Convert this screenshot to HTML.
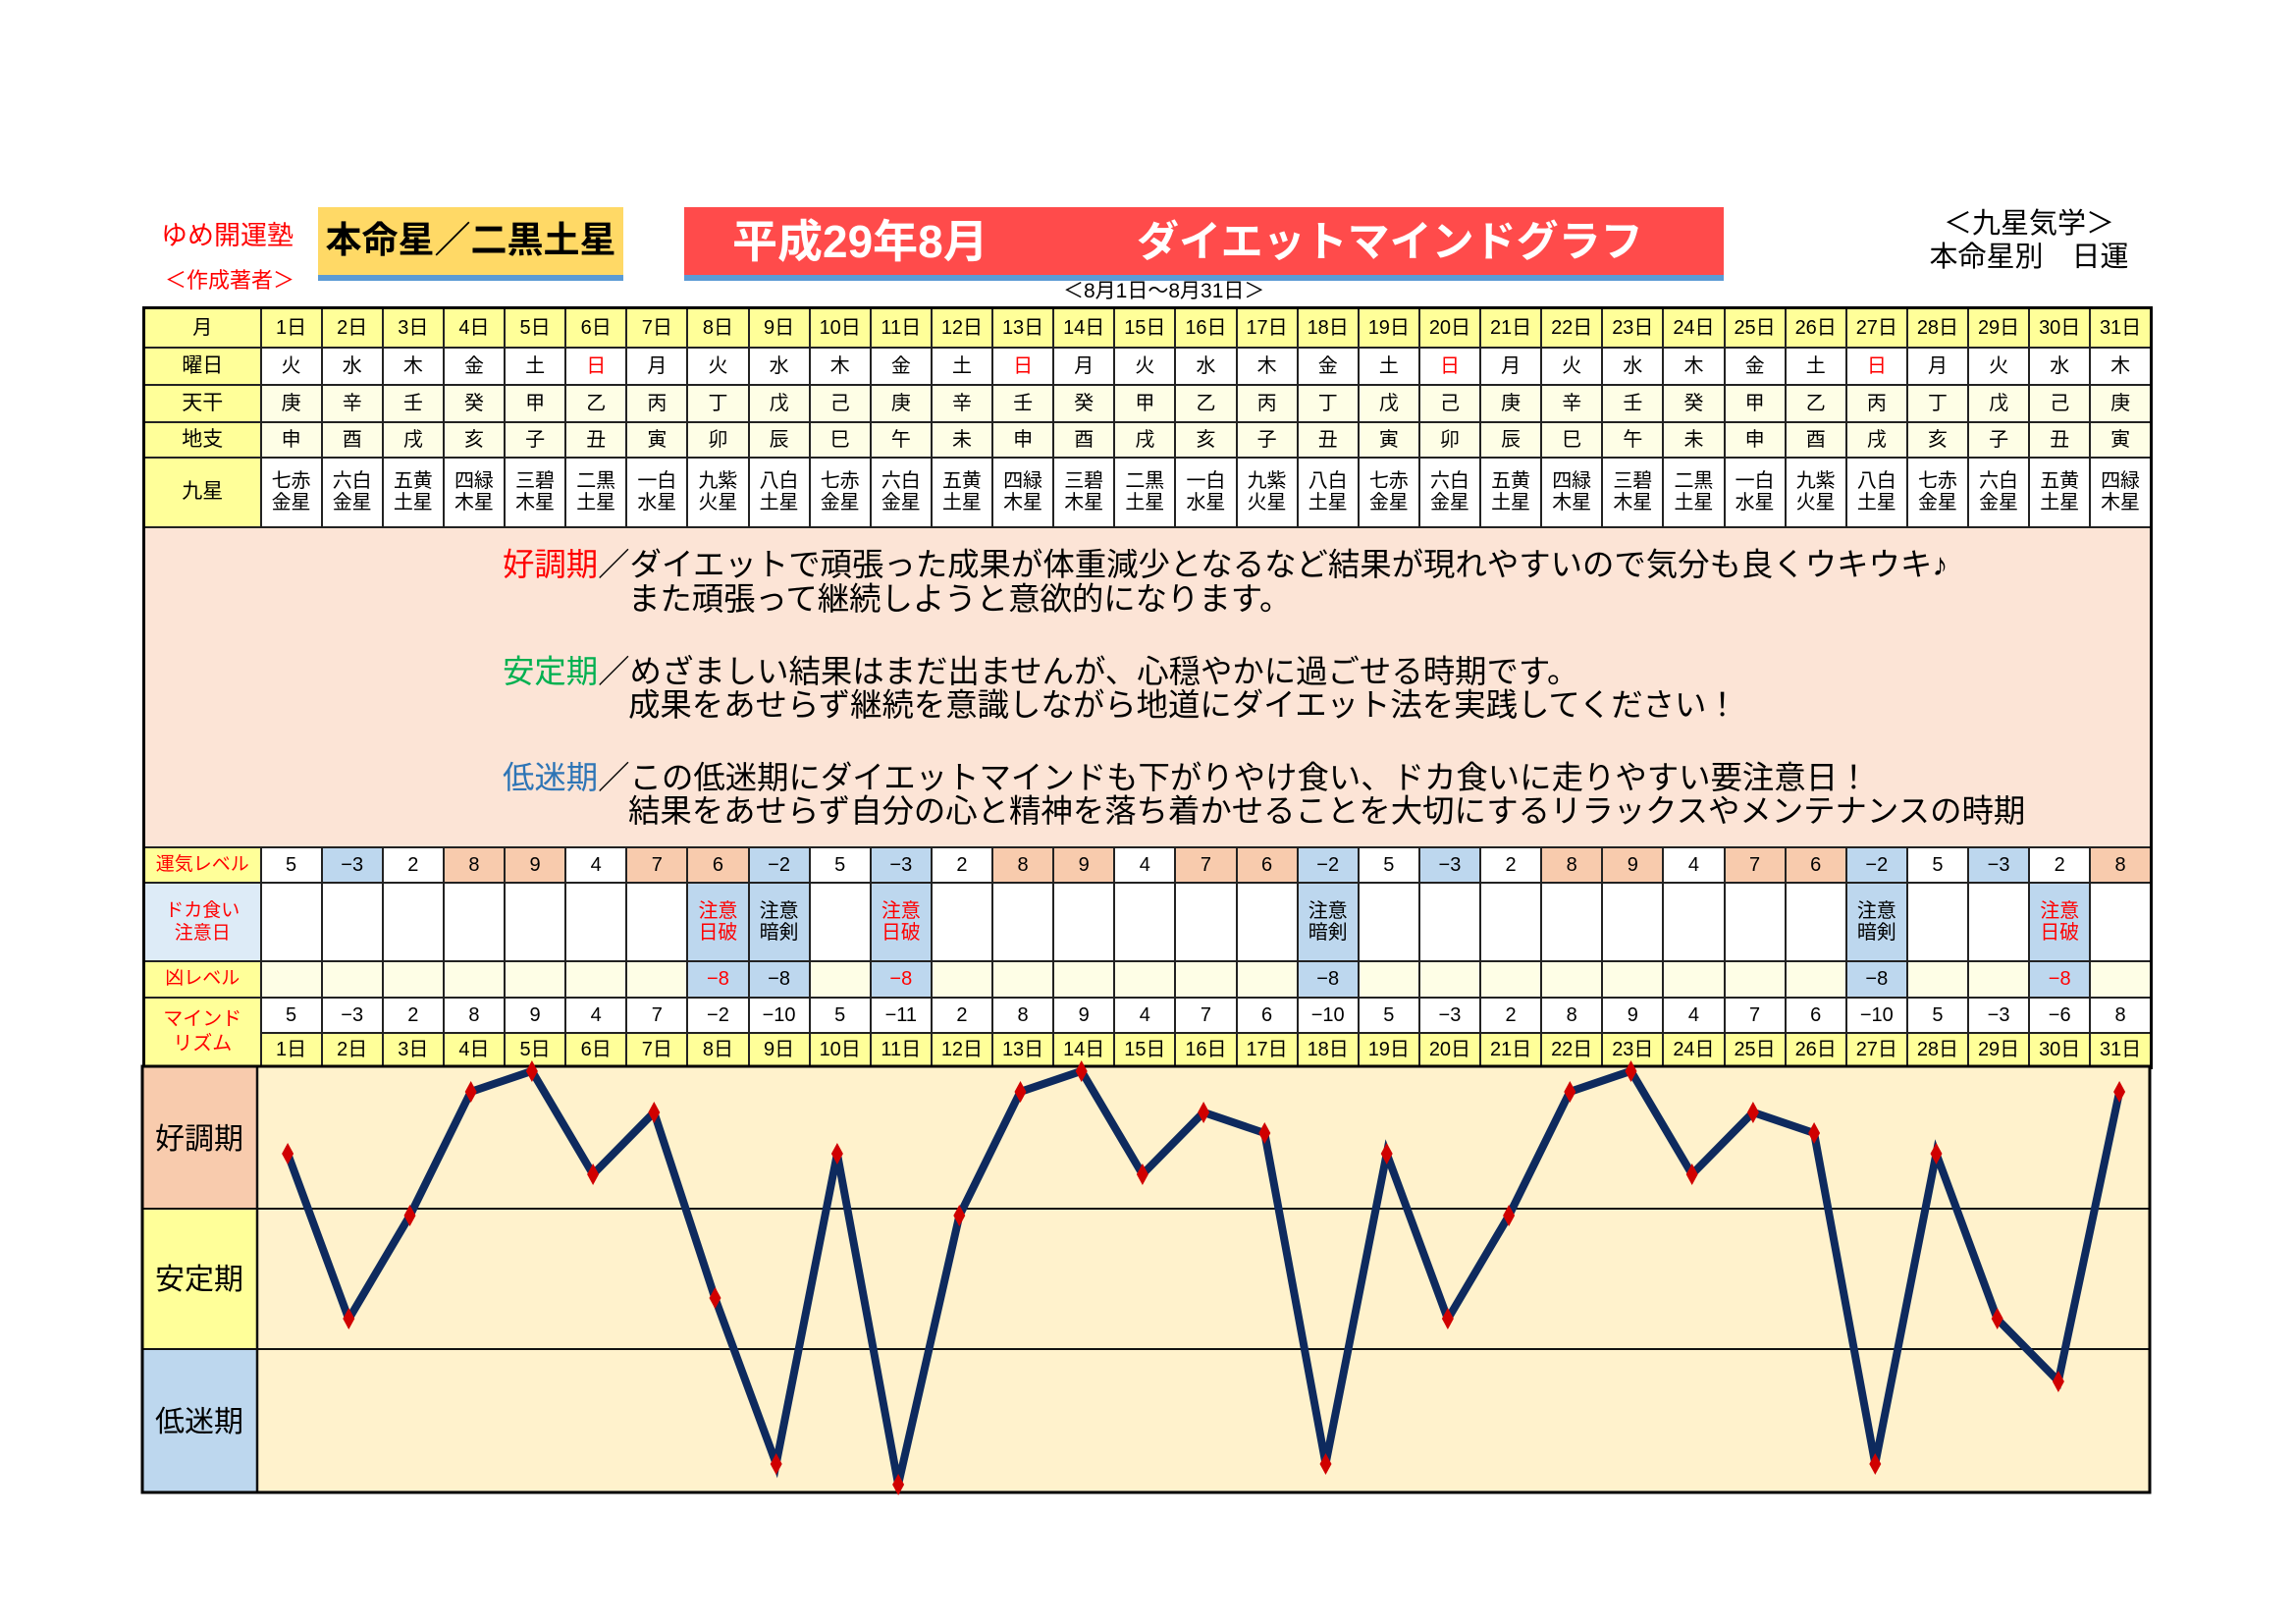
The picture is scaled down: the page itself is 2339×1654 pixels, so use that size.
<!DOCTYPE html>
<html><head><meta charset="utf-8">
<style>
*{margin:0;padding:0;box-sizing:border-box}
body{width:2339px;height:1654px;background:#fff;position:relative;overflow:hidden;font-family:"Liberation Sans","Noto Sans CJK JP",sans-serif;color:#000}
.a{position:absolute;white-space:nowrap}
table{position:absolute;left:145px;top:312px;width:2045px;border-collapse:collapse;table-layout:fixed;border:3px solid #000}
td{border:2px solid #222;text-align:center;font-size:20px;line-height:22px;padding:0;overflow:hidden}
.h{background:#ffff99}
.lc{background:#ffff99;font-size:21px}
.r{color:#f00}
.s{background:#f8cbad}
.b{background:#bdd7ee}
.ly{background:#fefee6}
.txt{background:#fce4d6;position:relative;height:326px}
.t{position:absolute;font-size:32.4px;white-space:nowrap;line-height:34px}
</style></head><body>
<div class="a" style="left:164px;top:218px;font-size:27px;color:#f00">ゆめ開運塾</div>
<div class="a" style="left:168px;top:268px;font-size:22px;color:#f00">＜作成著者＞</div>
<div class="a" style="left:324px;top:211px;width:311px;height:75px;background:#ffd966;border-bottom:6px solid #5b9bd5"></div>
<div class="a" style="left:324px;top:222px;width:311px;text-align:center;font-size:37px;font-weight:bold;line-height:46px">本命星／二黒土星</div>
<div class="a" style="left:697px;top:211px;width:1059px;height:75px;background:#ff4b4b;border-bottom:6px solid #5b9bd5"></div>
<div class="a" style="left:746px;top:218px;font-size:46px;font-weight:bold;color:#fff;line-height:56px">平成29年8月</div>
<div class="a" style="left:1158px;top:219px;font-size:43px;font-weight:bold;color:#fff;line-height:56px">ダイエットマインドグラフ</div>
<div class="a" style="left:1083px;top:285px;font-size:21px;line-height:24px">＜8月1日〜8月31日＞</div>
<div class="a" style="left:1967px;top:212px;width:200px;text-align:center;font-size:29px;line-height:33px">＜九星気学＞</div>
<div class="a" style="left:1940px;top:246px;width:254px;text-align:center;font-size:29px;line-height:33px">本命星別　日運</div>

<table>
<colgroup><col style="width:119px"><col span="31" style="width:62.13px"></colgroup>
<tr style="height:40px" class="h"><td>月</td><td>1日</td><td>2日</td><td>3日</td><td>4日</td><td>5日</td><td>6日</td><td>7日</td><td>8日</td><td>9日</td><td>10日</td><td>11日</td><td>12日</td><td>13日</td><td>14日</td><td>15日</td><td>16日</td><td>17日</td><td>18日</td><td>19日</td><td>20日</td><td>21日</td><td>22日</td><td>23日</td><td>24日</td><td>25日</td><td>26日</td><td>27日</td><td>28日</td><td>29日</td><td>30日</td><td>31日</td></tr>
<tr style="height:38px"><td class="lc">曜日</td><td>火</td><td>水</td><td>木</td><td>金</td><td>土</td><td class="r">日</td><td>月</td><td>火</td><td>水</td><td>木</td><td>金</td><td>土</td><td class="r">日</td><td>月</td><td>火</td><td>水</td><td>木</td><td>金</td><td>土</td><td class="r">日</td><td>月</td><td>火</td><td>水</td><td>木</td><td>金</td><td>土</td><td class="r">日</td><td>月</td><td>火</td><td>水</td><td>木</td></tr>
<tr style="height:38px" class="ly"><td class="lc">天干</td><td>庚</td><td>辛</td><td>壬</td><td>癸</td><td>甲</td><td>乙</td><td>丙</td><td>丁</td><td>戊</td><td>己</td><td>庚</td><td>辛</td><td>壬</td><td>癸</td><td>甲</td><td>乙</td><td>丙</td><td>丁</td><td>戊</td><td>己</td><td>庚</td><td>辛</td><td>壬</td><td>癸</td><td>甲</td><td>乙</td><td>丙</td><td>丁</td><td>戊</td><td>己</td><td>庚</td></tr>
<tr style="height:36px" class="ly"><td class="lc">地支</td><td>申</td><td>酉</td><td>戌</td><td>亥</td><td>子</td><td>丑</td><td>寅</td><td>卯</td><td>辰</td><td>巳</td><td>午</td><td>未</td><td>申</td><td>酉</td><td>戌</td><td>亥</td><td>子</td><td>丑</td><td>寅</td><td>卯</td><td>辰</td><td>巳</td><td>午</td><td>未</td><td>申</td><td>酉</td><td>戌</td><td>亥</td><td>子</td><td>丑</td><td>寅</td></tr>
<tr style="height:71px"><td class="lc">九星</td><td>七赤<br>金星</td><td>六白<br>金星</td><td>五黄<br>土星</td><td>四緑<br>木星</td><td>三碧<br>木星</td><td>二黒<br>土星</td><td>一白<br>水星</td><td>九紫<br>火星</td><td>八白<br>土星</td><td>七赤<br>金星</td><td>六白<br>金星</td><td>五黄<br>土星</td><td>四緑<br>木星</td><td>三碧<br>木星</td><td>二黒<br>土星</td><td>一白<br>水星</td><td>九紫<br>火星</td><td>八白<br>土星</td><td>七赤<br>金星</td><td>六白<br>金星</td><td>五黄<br>土星</td><td>四緑<br>木星</td><td>三碧<br>木星</td><td>二黒<br>土星</td><td>一白<br>水星</td><td>九紫<br>火星</td><td>八白<br>土星</td><td>七赤<br>金星</td><td>六白<br>金星</td><td>五黄<br>土星</td><td>四緑<br>木星</td></tr>
<tr style="height:326px"><td colspan="32" class="txt">
<div class="t" style="left:364px;top:20px"><span style="color:#f00">好調期</span>／ダイエットで頑張った成果が体重減少となるなど結果が現れやすいので気分も良くウキウキ♪</div>
<div class="t" style="left:492px;top:55px">また頑張って継続しようと意欲的になります。</div>
<div class="t" style="left:364px;top:129px"><span style="color:#00b050">安定期</span>／めざましい結果はまだ出ませんが、心穏やかに過ごせる時期です。</div>
<div class="t" style="left:492px;top:163px">成果をあせらず継続を意識しながら地道にダイエット法を実践してください！</div>
<div class="t" style="left:364px;top:237px"><span style="color:#2e75b6">低迷期</span>／この低迷期にダイエットマインドも下がりやけ食い、ドカ食いに走りやすい要注意日！</div>
<div class="t" style="left:492px;top:271px">結果をあせらず自分の心と精神を落ち着かせることを大切にするリラックスやメンテナンスの時期</div>
</td></tr>
<tr style="height:36px"><td class="lc r" style="font-size:19px">運気レベル</td><td>5</td><td class="b">−3</td><td>2</td><td class="s">8</td><td class="s">9</td><td>4</td><td class="s">7</td><td class="s">6</td><td class="b">−2</td><td>5</td><td class="b">−3</td><td>2</td><td class="s">8</td><td class="s">9</td><td>4</td><td class="s">7</td><td class="s">6</td><td class="b">−2</td><td>5</td><td class="b">−3</td><td>2</td><td class="s">8</td><td class="s">9</td><td>4</td><td class="s">7</td><td class="s">6</td><td class="b">−2</td><td>5</td><td class="b">−3</td><td>2</td><td class="s">8</td></tr>
<tr style="height:80px"><td class="r" style="background:#ddebf7;font-size:19px;line-height:23px">ドカ食い<br>注意日</td><td></td><td></td><td></td><td></td><td></td><td></td><td></td><td class="b r">注意<br>日破</td><td class="b">注意<br>暗剣</td><td></td><td class="b r">注意<br>日破</td><td></td><td></td><td></td><td></td><td></td><td></td><td class="b">注意<br>暗剣</td><td></td><td></td><td></td><td></td><td></td><td></td><td></td><td></td><td class="b">注意<br>暗剣</td><td></td><td></td><td class="b r">注意<br>日破</td><td></td></tr>
<tr style="height:37px" class="ly"><td class="lc r" style="font-size:19px">凶レベル</td><td></td><td></td><td></td><td></td><td></td><td></td><td></td><td class="b r">−8</td><td class="b">−8</td><td></td><td class="b r">−8</td><td></td><td></td><td></td><td></td><td></td><td></td><td class="b">−8</td><td></td><td></td><td></td><td></td><td></td><td></td><td></td><td></td><td class="b">−8</td><td></td><td></td><td class="b r">−8</td><td></td></tr>
<tr style="height:36px"><td rowspan="2" class="lc r" style="font-size:20px;line-height:25px">マインド<br>リズム</td><td>5</td><td>−3</td><td>2</td><td>8</td><td>9</td><td>4</td><td>7</td><td>−2</td><td>−10</td><td>5</td><td>−11</td><td>2</td><td>8</td><td>9</td><td>4</td><td>7</td><td>6</td><td>−10</td><td>5</td><td>−3</td><td>2</td><td>8</td><td>9</td><td>4</td><td>7</td><td>6</td><td>−10</td><td>5</td><td>−3</td><td>−6</td><td>8</td></tr>
<tr style="height:36px" class="h"><td>1日</td><td>2日</td><td>3日</td><td>4日</td><td>5日</td><td>6日</td><td>7日</td><td>8日</td><td>9日</td><td>10日</td><td>11日</td><td>12日</td><td>13日</td><td>14日</td><td>15日</td><td>16日</td><td>17日</td><td>18日</td><td>19日</td><td>20日</td><td>21日</td><td>22日</td><td>23日</td><td>24日</td><td>25日</td><td>26日</td><td>27日</td><td>28日</td><td>29日</td><td>30日</td><td>31日</td></tr>
</table>

<svg class="a" style="left:0;top:0" width="2339" height="1654">
<rect x="145" y="1086" width="2045" height="434" fill="#fff2cc"/>
<rect x="145" y="1086" width="117" height="145" fill="#f8cbad"/>
<rect x="145" y="1231" width="117" height="143" fill="#ffff99"/>
<rect x="145" y="1374" width="117" height="146" fill="#bdd7ee"/>
<line x1="145" y1="1231" x2="2190" y2="1231" stroke="#111" stroke-width="2"/>
<line x1="145" y1="1374" x2="2190" y2="1374" stroke="#111" stroke-width="2"/>
<line x1="262" y1="1086" x2="262" y2="1520" stroke="#111" stroke-width="2.5"/>
<rect x="145" y="1086" width="2045" height="434" fill="none" stroke="#000" stroke-width="3"/>
<text x="203" y="1170" font-size="30" text-anchor="middle" font-family="Liberation Sans, Noto Sans CJK JP, sans-serif">好調期</text>
<text x="203" y="1313" font-size="30" text-anchor="middle" font-family="Liberation Sans, Noto Sans CJK JP, sans-serif">安定期</text>
<text x="203" y="1458" font-size="30" text-anchor="middle" font-family="Liberation Sans, Noto Sans CJK JP, sans-serif">低迷期</text>
<polyline fill="none" stroke="#0e2a5e" stroke-width="8" stroke-linejoin="miter" points="293.1,1175 355.3,1343.4 417.5,1238.2 479.7,1111.9 541.9,1090.8 604.1,1196 666.3,1132.9 728.5,1322.4 790.7,1490.8 852.9,1175 915.1,1511.8 977.3,1238.2 1039.5,1111.9 1101.7,1090.8 1163.9,1196 1226.1,1132.9 1288.3,1154 1350.5,1490.8 1412.7,1175 1474.9,1343.4 1537.1,1238.2 1599.3,1111.9 1661.5,1090.8 1723.7,1196 1785.9,1132.9 1848.1,1154 1910.3,1490.8 1972.5,1175 2034.7,1343.4 2096.9,1406.6 2159.1,1111.9"/>
<g fill="#d00000">
<path d="M293.1,1164l6,11l-6,11l-6,-11z"/><path d="M355.3,1332l6,11l-6,11l-6,-11z"/><path d="M417.5,1227l6,11l-6,11l-6,-11z"/><path d="M479.7,1101l6,11l-6,11l-6,-11z"/><path d="M541.9,1080l6,11l-6,11l-6,-11z"/><path d="M604.1,1185l6,11l-6,11l-6,-11z"/><path d="M666.3,1122l6,11l-6,11l-6,-11z"/><path d="M728.5,1311l6,11l-6,11l-6,-11z"/><path d="M790.7,1480l6,11l-6,11l-6,-11z"/><path d="M852.9,1164l6,11l-6,11l-6,-11z"/><path d="M915.1,1501l6,11l-6,11l-6,-11z"/><path d="M977.3,1227l6,11l-6,11l-6,-11z"/><path d="M1039.5,1101l6,11l-6,11l-6,-11z"/><path d="M1101.7,1080l6,11l-6,11l-6,-11z"/><path d="M1163.9,1185l6,11l-6,11l-6,-11z"/><path d="M1226.1,1122l6,11l-6,11l-6,-11z"/><path d="M1288.3,1143l6,11l-6,11l-6,-11z"/><path d="M1350.5,1480l6,11l-6,11l-6,-11z"/><path d="M1412.7,1164l6,11l-6,11l-6,-11z"/><path d="M1474.9,1332l6,11l-6,11l-6,-11z"/><path d="M1537.1,1227l6,11l-6,11l-6,-11z"/><path d="M1599.3,1101l6,11l-6,11l-6,-11z"/><path d="M1661.5,1080l6,11l-6,11l-6,-11z"/><path d="M1723.7,1185l6,11l-6,11l-6,-11z"/><path d="M1785.9,1122l6,11l-6,11l-6,-11z"/><path d="M1848.1,1143l6,11l-6,11l-6,-11z"/><path d="M1910.3,1480l6,11l-6,11l-6,-11z"/><path d="M1972.5,1164l6,11l-6,11l-6,-11z"/><path d="M2034.7,1332l6,11l-6,11l-6,-11z"/><path d="M2096.9,1396l6,11l-6,11l-6,-11z"/><path d="M2159.1,1101l6,11l-6,11l-6,-11z"/>
</g>
</svg>
</body></html>
